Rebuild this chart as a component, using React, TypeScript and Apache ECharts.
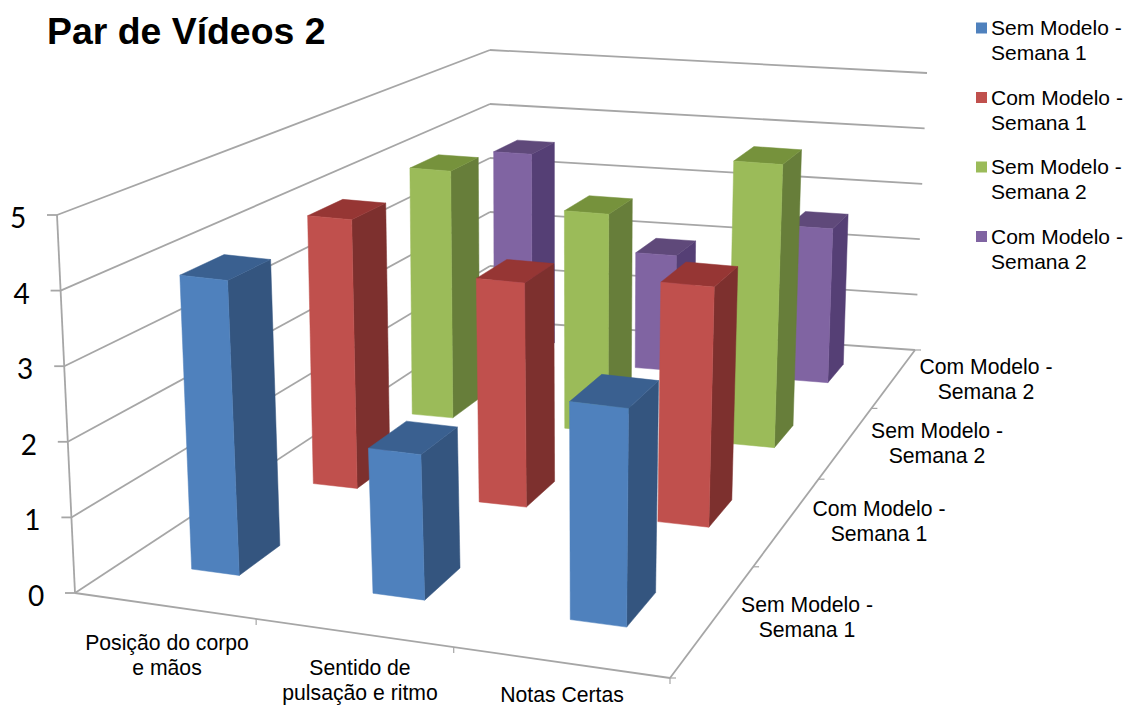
import React, { useEffect, useRef } from "react";
import * as echarts from "echarts";

const categories = ["Posição do corpo\ne mãos", "Sentido de\npulsação e ritmo", "Notas Certas"];
const seriesNames = [
  "Sem Modelo -\nSemana 1",
  "Com Modelo -\nSemana 1",
  "Sem Modelo -\nSemana 2",
  "Com Modelo -\nSemana 2",
];
const semModeloSemana1 = [4.0, 1.95, 2.9];
const comModeloSemana1 = [4.0, 3.3, 3.5];
const semModeloSemana2 = [4.0, 3.5, 4.5];
const comModeloSemana2 = [3.6, 2.0, 2.65];
const valueTicks = [0, 1, 2, 3, 4, 5];

type Pt = [number, number];

// Unit square to quadrilateral homography (corners: u0v0, u1v0, u1v1, u0v1).
function homography(p0: Pt, p1: Pt, p2: Pt, p3: Pt) {
  const dx1 = p1[0] - p2[0], dx2 = p3[0] - p2[0], sx = p0[0] - p1[0] + p2[0] - p3[0];
  const dy1 = p1[1] - p2[1], dy2 = p3[1] - p2[1], sy = p0[1] - p1[1] + p2[1] - p3[1];
  const den = dx1 * dy2 - dx2 * dy1;
  const g = (sx * dy2 - dx2 * sy) / den;
  const h = (dx1 * sy - sx * dy1) / den;
  const a = p1[0] - p0[0] + g * p1[0], b = p3[0] - p0[0] + h * p3[0], c = p0[0];
  const d = p1[1] - p0[1] + g * p1[1], e = p3[1] - p0[1] + h * p3[1], f = p0[1];
  return (u: number, v: number): Pt => {
    const w = g * u + h * v + 1;
    return [(a * u + b * v + c) / w, (d * u + e * v + f) / w];
  };
}

const floor = homography([75, 593], [670, 678], [915, 350], [490, 320]);
const ceiling = homography([57, 215], [678, 287], [927, 73], [490, 50]);
const MAX_VALUE = 5;

// Projects category position u, depth v and a value onto the page.
function project(u: number, v: number, value: number): Pt {
  const a = floor(u, v), b = ceiling(u, v), t = value / MAX_VALUE;
  return [a[0] + (b[0] - a[0]) * t, a[1] + (b[1] - a[1]) * t];
}

const BAR_W = 0.09;
const BAR_D = 0.08;
const BAR_U_SHIFT = 0.008;
const BAR_U_SKEW = 0.005;

function barItem(depthIndex: number, front: string, side: string, top: string) {
  return (_params: any, api: any) => {
    const cat = api.value(0), val = api.value(1);
    const vc = (depthIndex + 0.5) / seriesNames.length;
    const uc = (cat + 0.5) / categories.length + BAR_U_SHIFT - BAR_U_SKEW * cat * vc;
    const u0 = uc - BAR_W / 2, u1 = uc + BAR_W / 2, v0 = vc - BAR_D / 2, v1 = vc + BAR_D / 2;
    const face = (pts: Pt[], fill: string) => ({
      type: "polygon",
      shape: { points: pts },
      style: { fill, stroke: fill, lineWidth: 0.5 },
      silent: true,
    });
    return {
      type: "group",
      children: [
        face([project(u1, v0, 0), project(u1, v1, 0), project(u1, v1, val), project(u1, v0, val)], side),
        face([project(u0, v0, val), project(u1, v0, val), project(u1, v1, val), project(u0, v1, val)], top),
        face([project(u0, v0, 0), project(u1, v0, 0), project(u1, v0, val), project(u0, v0, val)], front),
      ],
    };
  };
}

const AXIS_COLOR = "#A6A6A6";
const line = (a: Pt, b: Pt, w = 1.8) => ({
  type: "line",
  shape: { x1: a[0], y1: a[1], x2: b[0], y2: b[1] },
  style: { stroke: AXIS_COLOR, lineWidth: w },
  silent: true,
});

function frameElements() {
  const els: any[] = [];
  // Value gridlines over the left and back walls, with ticks on the value axis.
  valueTicks.forEach((t) => {
    const fl = project(0, 0, t), bl = project(0, 1, t), br = project(1, 1, t);
    els.push(line(fl, bl), line(bl, br));
    els.push(line([fl[0] - 10, fl[1]], fl));
  });
  els.push(line(project(0, 0, 0), project(0, 0, MAX_VALUE)));
  // Floor edges and their ticks.
  els.push(line(project(0, 0, 0), project(1, 0, 0)));
  els.push(line(project(1, 0, 0), project(1, 1, 0)));
  for (let i = 1; i <= categories.length; i++) {
    const p = project(i / categories.length, 0, 0);
    els.push(line(p, [p[0], p[1] + 6], 1.2));
  }
  for (let i = 0; i <= seriesNames.length; i++) {
    const p = project(1, i / seriesNames.length, 0);
    els.push(line(p, [p[0] + 6, p[1]], 1.2));
  }
  // Value labels.
  valueTicks.forEach((t) => {
    const p = project(0, 0, t);
    els.push({
      type: "text",
      x: p[0] - 39,
      y: p[1] + 2,
      style: {
        text: String(t),
        font: '28px Lato',
        fill: "#000",
        align: "center",
        verticalAlign: "middle",
      },
    });
  });
  // Category labels beneath the front edge.
  const catPos: Pt[] = [[167, 655], [360, 680], [562, 694]];
  categories.forEach((c, i) => {
    els.push({
      type: "text",
      x: catPos[i][0],
      y: catPos[i][1],
      style: {
        text: c,
        font: '21.2px "Liberation Sans"',
        lineHeight: 25,
        fill: "#000",
        align: "center",
        verticalAlign: "middle",
      },
    });
  });
  // Series labels along the depth axis.
  const depthPos: Pt[] = [[807, 617], [879, 521], [937, 443], [986, 379]];
  seriesNames.forEach((n, i) => {
    els.push({
      type: "text",
      x: depthPos[i][0],
      y: depthPos[i][1],
      style: {
        text: n,
        font: '21.2px "Liberation Sans"',
        lineHeight: 25,
        fill: "#000",
        align: "center",
        verticalAlign: "middle",
      },
    });
  });
  return els;
}

const palette = [
  { front: "#4F81BD", side: "#34557F", top: "#3A6090", values: semModeloSemana1 },
  { front: "#C0504D", side: "#7D302E", top: "#963634", values: comModeloSemana1 },
  { front: "#9BBB59", side: "#677E3A", top: "#76923C", values: semModeloSemana2 },
  { front: "#8064A2", side: "#553F75", top: "#5F497A", values: comModeloSemana2 },
];

export default function App() {
  const ref = useRef<HTMLDivElement>(null);
  useEffect(() => {
    const chart = echarts.init(ref.current!, undefined, { renderer: "svg" });
    // Rows are painted from the back wall forwards.
    const series = palette
      .map((p, i) => ({
        type: "custom",
        name: seriesNames[i],
        coordinateSystem: "none",
        renderItem: barItem(i, p.front, p.side, p.top),
        itemStyle: { color: p.front },
        data: p.values.map((v, c) => [c, v]),
        silent: true,
      }))
      .reverse();
    chart.setOption({
      animation: false,
      backgroundColor: "#fff",
      title: {
        text: "Par de Vídeos 2",
        left: 42,
        top: 7,
        textStyle: { fontFamily: "Liberation Sans", fontWeight: "bold", fontSize: 37.4, color: "#000" },
      },
      legend: {
        orient: "vertical",
        left: 971,
        top: 10,
        itemWidth: 11,
        itemHeight: 50,
        itemGap: 19.5,
        selectedMode: false,
        icon: "path://M0 0L0 0M0 7.5H11V18.5H0ZM0 50L0 50",
        textStyle: {
          fontFamily: "Liberation Sans",
          fontSize: 21,
          lineHeight: 25,
          color: "#000",
          padding: [0, 0, 0, -1],
        },
        data: seriesNames,
      },
      graphic: { elements: frameElements() },
      series,
    });
    return () => chart.dispose();
  }, []);
  return <div ref={ref} style={{ position: "fixed", left: 0, top: 0, width: 1129, height: 709 }} />;
}
